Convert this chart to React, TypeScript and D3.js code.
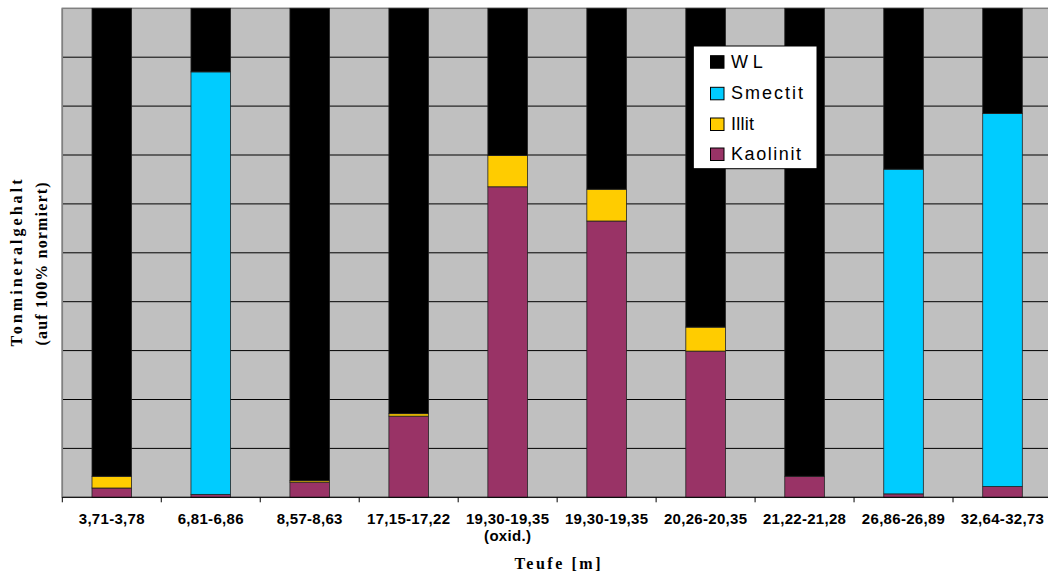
import React from "react";
import * as d3 from "d3";

// Depth intervals (sample labels)
const categories = [
  "3,71-3,78",
  "6,81-6,86",
  "8,57-8,63",
  "17,15-17,22",
  "19,30-19,35 (oxid.)",
  "19,30-19,35",
  "20,26-20,35",
  "21,22-21,28",
  "26,86-26,89",
  "32,64-32,73",
];

// Clay mineral shares in percent (normalised to 100%)
const kaolinit = [1.9, 0.6, 3.1, 16.6, 63.5, 56.5, 29.9, 4.3, 0.7, 2.2];
const illit = [2.4, 0, 0.3, 0.5, 6.4, 6.5, 4.9, 0, 0, 0];
const smectit = [0, 86.4, 0, 0, 0, 0, 0, 0, 66.4, 76.3];
const wl = [95.7, 13.0, 96.6, 82.9, 30.1, 37.0, 65.2, 95.7, 32.9, 21.5];

const seriesKeys = ["Kaolinit", "Illit", "Smectit", "WL"];
const legendOrder = ["WL", "Smectit", "Illit", "Kaolinit"];
const colors: Record<string, string> = {
  WL: "#000000",
  Smectit: "#00CCFF",
  Illit: "#FFCC00",
  Kaolinit: "#993366",
};
const gridTicks = [10, 20, 30, 40, 50, 60, 70, 80, 90, 100];

const W = 1048;
const H = 577;
const plot = { left: 62.3, right: 1052, top: 8.3, bottom: 497.3 };

export default function App() {
  const rows = categories.map((c, i) => ({
    cat: c,
    Kaolinit: kaolinit[i],
    Illit: illit[i],
    Smectit: smectit[i],
    WL: wl[i],
  }));

  const x = d3
    .scaleBand<string>()
    .domain(categories)
    .range([plot.left, plot.right])
    .paddingInner(0.6)
    .paddingOuter(0.3);
  const step = x.step();
  const y = d3.scaleLinear().domain([0, 100]).range([plot.bottom, plot.top]);

  const stacked = d3.stack<any>().keys(seriesKeys)(rows);

  const boundaries = categories.map((_, i) => plot.left + i * step);

  const tickFont = "'Liberation Sans', Arial, sans-serif";
  const serif = "'Liberation Serif', 'Times New Roman', serif";

  return (
    <svg
      width={W}
      height={H}
      style={{ position: "absolute", left: 0, top: 0, background: "#fff" }}
    >
      {/* plot area */}
      <rect
        x={plot.left}
        y={plot.top}
        width={plot.right - plot.left}
        height={plot.bottom - plot.top}
        fill="#C0C0C0"
        stroke="#808080"
        strokeWidth={1.5}
      />
      {/* horizontal gridlines */}
      {gridTicks.slice(0, -1).map((t) => (
        <line
          key={t}
          x1={plot.left}
          x2={plot.right}
          y1={y(t)}
          y2={y(t)}
          stroke="#000"
          strokeWidth={1}
        />
      ))}

      {/* stacked bars */}
      {stacked.map((s) => (
        <g key={s.key} fill={colors[s.key]}>
          {s.map((d, i) =>
            d[1] - d[0] > 0 ? (
              <rect
                key={i}
                x={x(categories[i])}
                width={x.bandwidth()}
                y={y(d[1])}
                height={y(d[0]) - y(d[1])}
                stroke="#222"
                strokeWidth={0.8}
              />
            ) : null
          )}
        </g>
      ))}

      {/* left axis line */}
      <line
        x1={plot.left}
        x2={plot.left}
        y1={plot.top}
        y2={plot.bottom}
        stroke="#808080"
        strokeWidth={1.5}
      />
      {/* bottom axis with ticks at category boundaries */}
      <line
        x1={plot.left}
        x2={plot.right}
        y1={plot.bottom}
        y2={plot.bottom}
        stroke="#000"
        strokeWidth={1}
      />
      {boundaries.map((bx, i) => (
        <line
          key={i}
          x1={bx}
          x2={bx}
          y1={plot.bottom}
          y2={plot.bottom + 5}
          stroke="#000"
          strokeWidth={1}
        />
      ))}

      {/* category labels */}
      {categories.map((c) => {
        const cx = (x(c) as number) + x.bandwidth() / 2;
        const parts = c.split(" ");
        return (
          <text
            key={c}
            x={cx}
            y={524}
            textAnchor="middle"
            fontFamily={tickFont}
            fontWeight="bold"
            fontSize={15}
            letterSpacing={0.3}
            fill="#000"
          >
            {parts.map((p, j) => (
              <tspan key={j} x={cx} dy={j === 0 ? 0 : 17}>
                {p}
              </tspan>
            ))}
          </text>
        );
      })}

      {/* axis titles */}
      <text
        x={557.5}
        y={569}
        textAnchor="middle"
        fontFamily={serif}
        fontWeight="bold"
        fontSize={16}
        textLength={86}
        lengthAdjust="spacing"
      >
        Teufe [m]
      </text>
      <g transform="translate(22,263) rotate(-90)">
        <text
          x={0}
          y={0}
          textAnchor="middle"
          fontFamily={serif}
          fontWeight="bold"
          fontSize={16}
          textLength={167}
          lengthAdjust="spacing"
        >
          Tonmineralgehalt
        </text>
      </g>
      <g transform="translate(47,264) rotate(-90)">
        <text
          x={0}
          y={0}
          textAnchor="middle"
          fontFamily={serif}
          fontWeight="bold"
          fontSize={16}
          textLength={163}
          lengthAdjust="spacing"
        >
          (auf 100% normiert)
        </text>
      </g>

      {/* legend */}
      <rect
        x={693.3}
        y={46}
        width={123.7}
        height={122.7}
        fill="#fff"
        stroke="#000"
        strokeWidth={1}
      />
      {legendOrder.map((k, i) => {
        const baselines = [67.7, 99.3, 130, 160];
        const lengths = [31.7, 72, 23, 70];
        const by = baselines[i];
        return (
          <g key={k}>
            <rect
              x={710.5}
              y={by - 12}
              width={13.5}
              height={12.5}
              fill={colors[k]}
              stroke="#000"
              strokeWidth={1}
            />
            <text
              x={731}
              y={by}
              fontFamily={tickFont}
              fontSize={18}
              textLength={lengths[i]}
              lengthAdjust="spacing"
              fill="#000"
            >
              {k === "WL" ? "W L" : k}
            </text>
          </g>
        );
      })}
    </svg>
  );
}
